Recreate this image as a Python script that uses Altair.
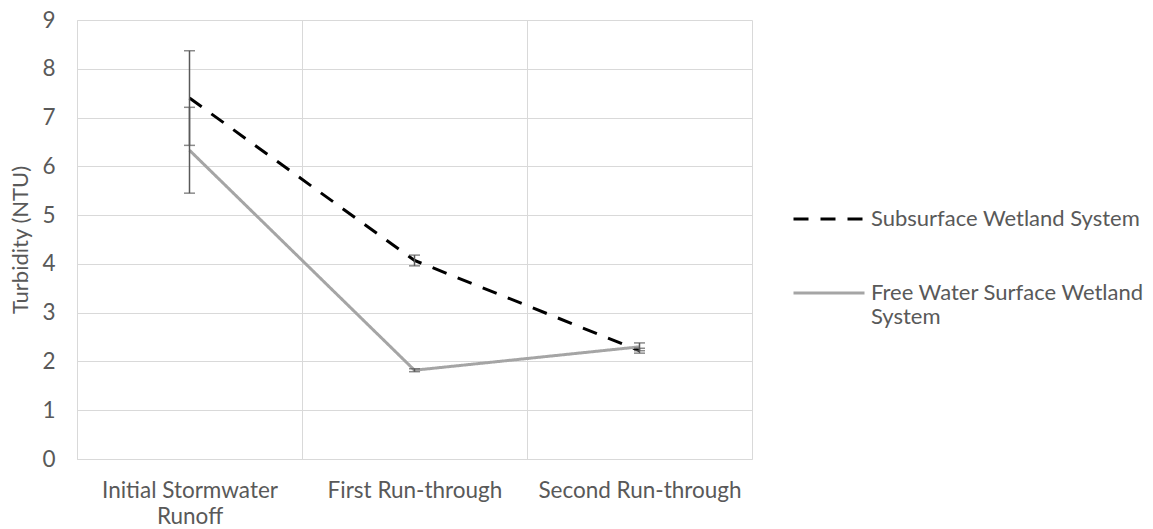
import altair as alt
import pandas as pd
import textwrap

categories = ["Initial Stormwater Runoff", "First Run-through", "Second Run-through"]
series = ["Subsurface Wetland System", "Free Water Surface Wetland System"]
subsurface_mean = [7.40, 4.07, 2.22]
subsurface_err = [0.97, 0.11, 0.05]
free_mean = [6.33, 1.82, 2.30]
free_err = [0.88, 0.03, 0.08]
y_ticks = [0, 1, 2, 3, 4, 5, 6, 7, 8, 9]

rows = []
for s, means, errs in [(series[0], subsurface_mean, subsurface_err),
                       (series[1], free_mean, free_err)]:
    for c, m, e in zip(categories, means, errs):
        rows.append({"cat": c, "series": s, "val": m, "lo": m - e, "hi": m + e})
df = pd.DataFrame(rows)


def wrap_expr(labels, width):
    expr = "datum.label"
    for lab in labels:
        parts = textwrap.wrap(lab, width)
        if len(parts) > 1:
            arr = "[" + ",".join("'" + p + "'" for p in parts) + "]"
            expr = f"datum.label == '{lab}' ? {arr} : " + expr
    return expr


FONT = "Lato"
TXT = "#595959"
GRID = "#d9d9d9"

x_enc = alt.X(
    "cat:N", sort=categories, title=None,
    scale=alt.Scale(paddingInner=0, paddingOuter=0),
    axis=alt.Axis(labelAngle=0, tickBand="extent", grid=True, gridColor=GRID,
                  domainColor=GRID, ticks=False, labelPadding=20, labelLimit=0,
                  labelExpr=wrap_expr(categories, 20), labelLineHeight=26),
)
y_enc = alt.Y(
    "val:Q", title="Turbidity (NTU)",
    scale=alt.Scale(domain=[0, 9], nice=False),
    axis=alt.Axis(values=y_ticks, grid=True, gridColor=GRID, domainColor=GRID,
                  ticks=False, labelPadding=22, titlePadding=9),
)

base = alt.Chart(df)

lines = base.mark_line(strokeWidth=3).encode(
    x=x_enc, y=y_enc,
    color=alt.Color("series:N", sort=series, title=None,
                    scale=alt.Scale(domain=series, range=["#000000", "#a5a5a5"]),
                    legend=alt.Legend(orient="none", legendX=715, legendY=162,
                                      symbolType="stroke", symbolSize=5041,
                                      symbolStrokeWidth=3, labelLimit=0,
                                      rowPadding=26, labelOffset=5,
                                      labelExpr=wrap_expr(series, 27))),
    strokeDash=alt.StrokeDash("series:N", sort=series, title=None,
                              scale=alt.Scale(domain=series, range=[[15, 12], [1, 0]])),
)

err_rules = base.mark_rule(color="#595959", strokeWidth=1.5).encode(
    x=alt.X("cat:N", sort=categories), y="lo:Q", y2="hi:Q"
)
caps_lo = base.mark_tick(color="#595959", size=11, thickness=1.5).encode(
    x=alt.X("cat:N", sort=categories), y="lo:Q"
)
caps_hi = base.mark_tick(color="#595959", size=11, thickness=1.5).encode(
    x=alt.X("cat:N", sort=categories), y="hi:Q"
)

chart = alt.layer(lines, err_rules, caps_lo, caps_hi).properties(
    width=675, height=439,
    autosize=alt.AutoSizeParams(type="none"),
    padding={"left": 69, "top": 12, "right": 393, "bottom": 66},
).configure_view(stroke=None).configure_axis(
    labelFont=FONT, titleFont=FONT, labelFontSize=22.5, titleFontSize=22,
    labelColor=TXT, titleColor=TXT, titleFontWeight="normal",
).configure_legend(
    labelFont=FONT, labelFontSize=22, labelColor=TXT,
)

chart.save("out.html", embed_options={"renderer": "svg", "actions": False})
